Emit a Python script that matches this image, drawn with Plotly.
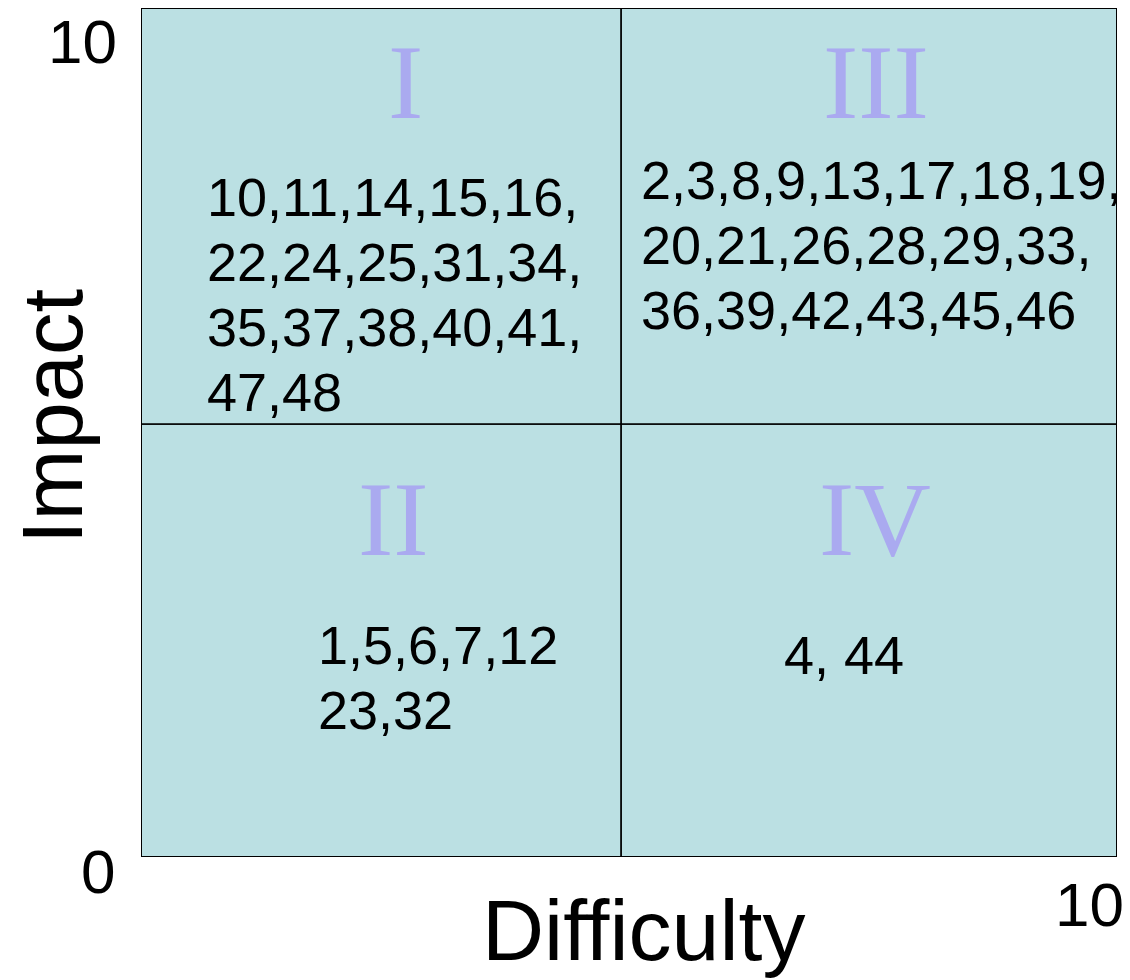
import plotly.graph_objects as go

# ---- data ----
x_range = [0, 10]
y_range = [0, 10]
x_split = 4.92
y_split = 5.10

quadrant_labels = ["I", "III", "II", "IV"]
quadrant_lines = [
    ["10,11,14,15,16,", "22,24,25,31,34,", "35,37,38,40,41,", "47,48"],
    ["2,3,8,9,13,17,18,19,", "20,21,26,28,29,33,", "36,39,42,43,45,46"],
    ["1,5,6,7,12", "23,32"],
    ["4, 44"],
]
x_title = "Difficulty"
y_title = "Impact"
y_tick_labels = ["10", "0"]
x_tick_labels = ["10"]

# ---- style / placement ----
FILL = "#BBE0E3"
NUM_COLOR = "#AAAAF0"
SANS = "Liberation Sans, Arial, sans-serif"
SERIF = "Liberation Serif, Times New Roman, serif"

# screen-pixel geometry of the plot area (page body adds 8px offset)
PL, PT, PW, PH = 141, 8, 976, 849
OFF = 8


def px_to_paper(px, py):
    return (px - PL) / PW, (PT + PH - py) / PH


label_pos = [(2.71, 9.12), (7.53, 9.12), (2.59, 3.98), (7.52, 3.98)]
text_pos = [(0.66, 7.77), (5.10, 7.97), (1.79, 2.50), (6.57, 2.38)]
line_step = 0.765

fig = go.Figure()

# quadrant rectangles
xs = [x_range[0], x_split, x_range[1]]
ys = [y_range[0], y_split, y_range[1]]
for i in range(2):
    for j in range(2):
        fig.add_shape(type="rect", xref="x", yref="y",
                      x0=xs[i], x1=xs[i + 1], y0=ys[j], y1=ys[j + 1],
                      fillcolor=FILL, line=dict(color="black", width=1.5),
                      layer="below")
# outer border
fig.add_shape(type="rect", xref="x", yref="y",
              x0=x_range[0], x1=x_range[1], y0=y_range[0], y1=y_range[1],
              line=dict(color="black", width=2), fillcolor="rgba(0,0,0,0)")

# invisible trace to anchor axes
fig.add_trace(go.Scatter(x=x_range, y=y_range, mode="markers",
                         marker=dict(opacity=0), hoverinfo="skip",
                         showlegend=False))

for lab, (lx, ly) in zip(quadrant_labels, label_pos):
    fig.add_annotation(x=lx, y=ly, xref="x", yref="y", text=lab,
                       showarrow=False, xanchor="center", yanchor="middle",
                       font=dict(family=SERIF, size=106, color=NUM_COLOR))

for lines, (tx, ty) in zip(quadrant_lines, text_pos):
    for k, ln in enumerate(lines):
        fig.add_annotation(x=tx, y=ty - k * line_step, xref="x", yref="y",
                           text=ln, showarrow=False, xanchor="left",
                           yanchor="middle", align="left",
                           font=dict(family=SANS, size=54, color="black"))

# tick labels
px, py = px_to_paper(119, 41)
fig.add_annotation(x=px, y=py, xref="paper", yref="paper",
                   text=y_tick_labels[0], showarrow=False, xanchor="right",
                   yanchor="middle", font=dict(family=SANS, size=62, color="black"))
px, py = px_to_paper(97.5, 872)
fig.add_annotation(x=px, y=py, xref="paper", yref="paper",
                   text=y_tick_labels[1], showarrow=False, xanchor="center",
                   yanchor="middle", font=dict(family=SANS, size=62, color="black"))
px, py = px_to_paper(1089, 904)
fig.add_annotation(x=px, y=py, xref="paper", yref="paper",
                   text=x_tick_labels[0], showarrow=False, xanchor="center",
                   yanchor="middle", font=dict(family=SANS, size=62, color="black"))

# axis titles
px, py = px_to_paper(643, 930)
fig.add_annotation(x=px, y=py, xref="paper", yref="paper",
                   text=x_title, showarrow=False, xanchor="center",
                   yanchor="middle", font=dict(family=SANS, size=86, color="black"))
px, py = px_to_paper(52, 417)
fig.add_annotation(x=px, y=py, xref="paper", yref="paper",
                   text=y_title, showarrow=False, textangle=-90,
                   xanchor="center", yanchor="middle",
                   font=dict(family=SANS, size=85, color="black"))

fig.update_xaxes(range=x_range, showgrid=False, zeroline=False,
                 showticklabels=False, showline=False, ticks="")
fig.update_yaxes(range=y_range, showgrid=False, zeroline=False,
                 showticklabels=False, showline=False, ticks="")

W, H = 1130, 980
fig.update_layout(width=W, height=H,
                  margin=dict(l=PL - OFF, r=W - (PL - OFF) - PW,
                              t=PT - OFF, b=H - (PT - OFF) - PH),
                  paper_bgcolor="white", plot_bgcolor="white",
                  showlegend=False)

fig.write_html("out.html")
